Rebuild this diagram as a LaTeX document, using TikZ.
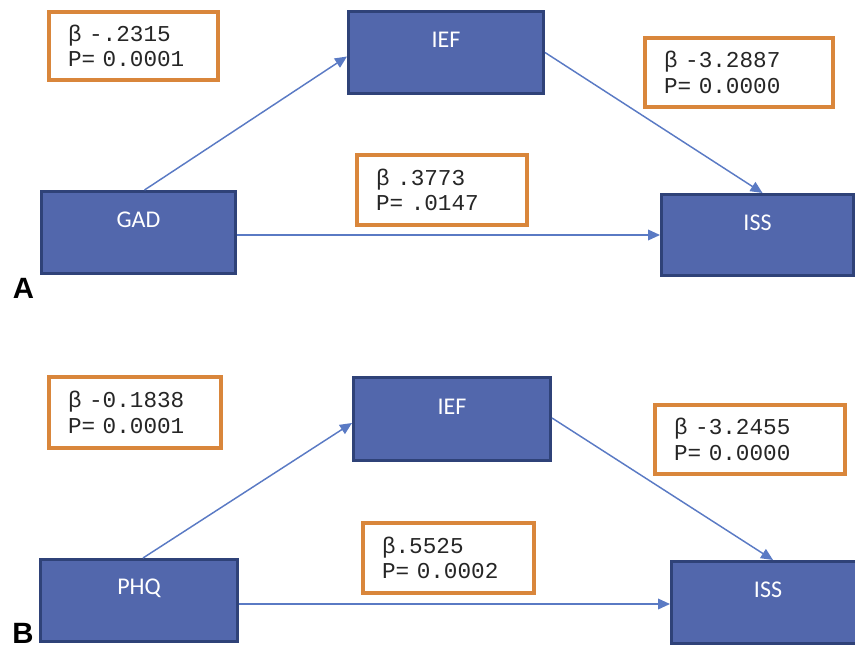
\documentclass[tikz,border=0pt]{standalone}
\usepackage{fontspec}
\setmainfont{Carlito}
\newfontfamily\monof{Liberation Mono}
\newfontfamily\labf{Liberation Sans}
\usetikzlibrary{arrows.meta,calc}
\definecolor{boxfill}{RGB}{82,103,172}
\definecolor{boxline}{RGB}{47,66,120}
\definecolor{orng}{RGB}{217,134,59}
\definecolor{arr}{RGB}{90,122,196}
\begin{document}
\begin{tikzpicture}[x=0.75pt,y=-0.75pt,
  blk/.style={draw=boxline,fill=boxfill,line width=2.25pt,minimum height=61.5pt,inner sep=0pt},
  blktext/.style={text=white,font=\fontsize{18}{20}\selectfont,yshift=9.4pt},
  obox/.style={draw=orng,line width=3pt,fill=white,align=left,inner xsep=14.25pt,inner ysep=0pt,
    font=\monof\fontsize{17}{19}\selectfont,text=black!85},
  conn/.style={draw=arr,line width=1.1pt,-{Triangle[length=9pt,width=8pt]}},
  panel/.style={font=\labf\bfseries\fontsize{22}{24}\selectfont,inner sep=0pt}]
\useasboundingbox (0,0) rectangle (855,648);
\clip (0,0) rectangle (855,648);
% ---------- Panel A ----------
\node[blk,minimum width=145.5pt,label={[blktext]center:GAD}] (gad) at (138.5,232.5) {};
\node[blk,minimum width=146.25pt,label={[blktext]center:IEF}] (iefa) at (446,52.5) {};
\node[blk,minimum width=144pt,minimum height=60.75pt,label={[blktext]center:ISS}] (issa) at (757.5,235) {};
\draw[conn] ($(gad.north)+(6,0)$) -- ($(iefa.west)+(0,4)$);
\draw[conn] (iefa.east) -- ($(issa.north)+(5,0)$);
\draw[conn] (gad.east |- issa.west) -- (issa.west);
\node[obox,text width=98.25pt,minimum height=51pt] (a1) at (133.5,46) {β -.2315\\P= 0.0001};
\node[obox,text width=112.5pt,minimum height=51.75pt] (a2) at (739,72.5) {β -3.2887\\P= 0.0000};
\node[obox,text width=99pt,minimum height=52.5pt] (a3) at (442,190) {β .3773\\P= .0147};
\node[panel] (la) at (23.5,288) {A};
% ---------- Panel B ----------
\node[blk,minimum width=147.75pt,label={[blktext]center:PHQ}] (phq) at (139,600.5) {};
\node[blk,minimum width=147.75pt,minimum height=62.25pt,label={[blktext]center:IEF}] (iefb) at (452,419) {};
\node[blk,minimum width=144.75pt,label={[blktext]center:ISS}] (issb) at (768,602.5) {};
\draw[conn] ($(phq.north)+(4,0)$) -- ($(iefb.west)+(0,4)$);
\draw[conn] ($(iefb.east)+(0,-1)$) -- ($(issb.north)+(5,0)$);
\draw[conn] ($(phq.east)+(0,3.5)$) -- ($(issb.west)+(0,1.5)$);
\node[obox,text width=100.5pt,minimum height=53.25pt] (b1) at (135,412.5) {β -0.1838\\P= 0.0001};
\node[obox,text width=114pt,minimum height=51.75pt] (b2) at (750,439.5) {β -3.2455\\P= 0.0000};
\node[obox,text width=99.75pt,minimum height=52.5pt] (b3) at (448.5,558) {β.5525\\P= 0.0002};
\node[panel] (lb) at (23,633) {B};
\end{tikzpicture}
\end{document}
